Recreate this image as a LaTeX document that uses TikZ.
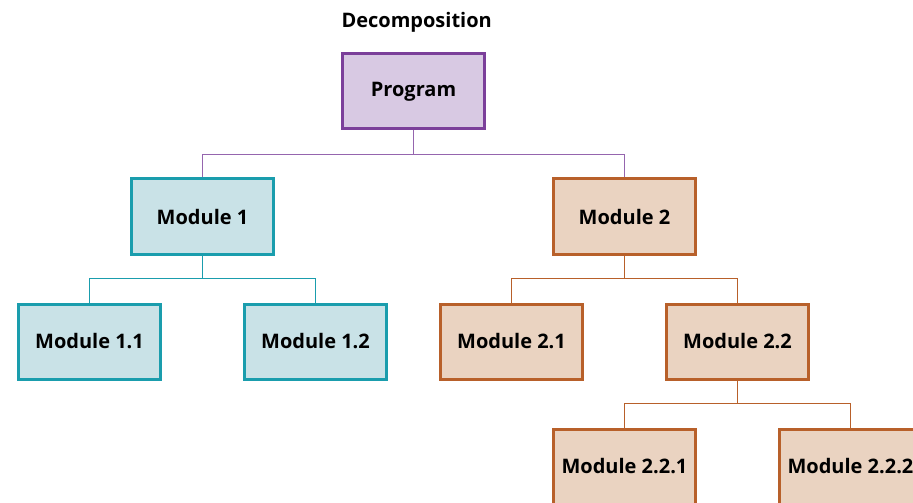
\documentclass[tikz,border=0pt]{standalone}
\usepackage{fontspec}
\setmainfont{Open Sans}
\usepackage{xcolor}
\usetikzlibrary{positioning}
\definecolor{prgline}{HTML}{7B3F9A}
\definecolor{prgfill}{HTML}{D8C9E3}
\definecolor{mAline}{HTML}{1A9DAD}
\definecolor{mAfill}{HTML}{C9E2E7}
\definecolor{mBline}{HTML}{B8602A}
\definecolor{mBfill}{HTML}{EAD3C1}

\begin{document}
\begin{tikzpicture}[font=\fontsize{20}{24}\selectfont\bfseries, node distance=47pt,
  box/.style={rectangle, line width=3pt, minimum width=142pt, minimum height=75pt, inner sep=0pt},
  prog/.style={box, draw=prgline, fill=prgfill},
  modA/.style={box, draw=mAline, fill=mAfill},
  modB/.style={box, draw=mBline, fill=mBfill},
  link/.style={line width=1.4pt}]
\path[use as bounding box, clip] (-413.5pt,91.5pt) rectangle (499.5pt,-411.5pt);

\node[prog] (program) at (0,0) {Program};
\node[anchor=base west] (title) at ([xshift=-3pt, yshift=25pt]program.north west) {Decomposition};

\node[modA, below=of program, xshift=-211pt] (m1) {Module 1};
\node[modB, below=of program, xshift=211pt] (m2) {Module 2};

\node[modA, below=of m1, xshift=-113pt] (m11) {Module 1.1};
\node[modA, below=of m1, xshift=113pt] (m12) {Module 1.2};
\node[modB, below=of m2, xshift=-113pt] (m21) {Module 2.1};
\node[modB, below=of m2, xshift=113pt] (m22) {Module 2.2};

\node[modB, below=of m22, xshift=-113pt] (m221) {Module 2.2.1};
\node[modB, below=of m22, xshift=113pt] (m222) {Module 2.2.2};

\draw[link, prgline!80] (program.south) -- ++(0,-24pt) -| (m1.north);
\draw[link, prgline!80] (program.south) -- ++(0,-24pt) -| (m2.north);
\draw[link, mAline] (m1.south) -- ++(0,-23pt) -| (m11.north);
\draw[link, mAline] (m1.south) -- ++(0,-23pt) -| (m12.north);
\draw[link, mBline] (m2.south) -- ++(0,-23pt) -| (m21.north);
\draw[link, mBline] (m2.south) -- ++(0,-23pt) -| (m22.north);
\draw[link, mBline] (m22.south) -- ++(0,-23pt) -| (m221.north);
\draw[link, mBline] (m22.south) -- ++(0,-23pt) -| (m222.north);
\end{tikzpicture}
\end{document}
